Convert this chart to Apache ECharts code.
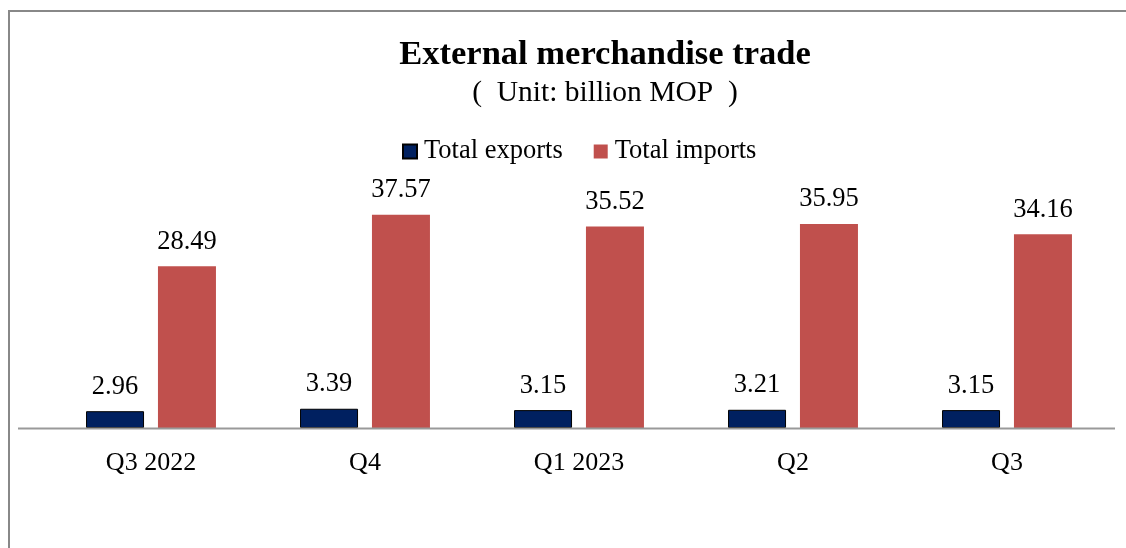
<!DOCTYPE html>
<html>
<head>
<meta charset="utf-8">
<style>
  html, body { margin: 0; padding: 0; background: #fff; }
  #chart { width: 1126px; height: 548px; }
</style>
<script src="https://cdn.jsdelivr.net/npm/echarts@6/dist/echarts.min.js"></script>
</head>
<body>
<div id="chart"></div>
<script>
const quarters = ["Q3 2022", "Q4", "Q1 2023", "Q2", "Q3"];
const totalExports = [2.96, 3.39, 3.15, 3.21, 3.15];
const totalImports = [28.49, 37.57, 35.52, 35.95, 34.16];

const fontFamily = "'Liberation Serif', 'DejaVu Serif', serif";

const chart = echarts.init(document.getElementById("chart"));
const option = {
  backgroundColor: "#fff",
  animation: false,
  textStyle: { fontFamily: fontFamily },
  title: {
    text: "External merchandise trade",
    subtext: "(  Unit: billion MOP  )",
    left: 600,
    textAlign: "center",
    top: 33,
    itemGap: 5,
    textStyle: { fontFamily: fontFamily, fontSize: 34.5, fontWeight: "bold", color: "#000" },
    subtextStyle: { fontFamily: fontFamily, fontSize: 29.5, color: "#000" },
  },
  legend: {
    top: 133,
    left: 397,
    itemWidth: 14,
    itemHeight: 14,
    itemGap: 31,
    icon: "rect",
    textStyle: { fontFamily: fontFamily, fontSize: 26.5, color: "#000", padding: [0, 0, 0, 2] },
    data: ["Total exports", "Total imports"],
  },
  grid: {
    left: 44,
    right: 12,
    top: 201,
    bottom: 120,
    containLabel: false,
  },
  xAxis: {
    type: "category",
    data: quarters,
    axisLine: { show: false },
    axisTick: { show: false },
    axisLabel: { fontFamily: fontFamily, fontSize: 26, color: "#000", margin: 22 },
  },
  yAxis: {
    type: "value",
    min: 0,
    max: 40,
    show: false,
    splitLine: { show: false },
  },
  series: [
    {
      name: "Total exports",
      type: "bar",
      data: totalExports,
      barWidth: 58,
      barGap: "24%",
      itemStyle: { color: "#002060", borderColor: "#000", borderWidth: 1 },
      label: {
        show: true,
        position: "top",
        distance: 11,
        fontFamily: fontFamily,
        fontSize: 26.5,
        color: "#000",
        formatter: (p) => p.value.toFixed(2),
      },
    },
    {
      name: "Total imports",
      type: "bar",
      data: totalImports,
      barWidth: 58,
      itemStyle: { color: "#C0504D" },
      label: {
        show: true,
        position: "top",
        distance: 11,
        fontFamily: fontFamily,
        fontSize: 26.5,
        color: "#000",
        formatter: (p) => p.value.toFixed(2),
      },
    },
  ],
  graphic: [
    {
      type: "rect",
      shape: { x: 9, y: 11, width: 1140, height: 560 },
      style: { fill: "none", stroke: "#888", lineWidth: 2 },
      silent: true,
      z: 0,
    },
    {
      type: "line",
      shape: { x1: 18, y1: 428.5, x2: 1115, y2: 428.5 },
      style: { stroke: "#999", lineWidth: 2 },
      silent: true,
      z: 100,
    },
  ],
};
chart.setOption(option);
</script>
</body>
</html>
